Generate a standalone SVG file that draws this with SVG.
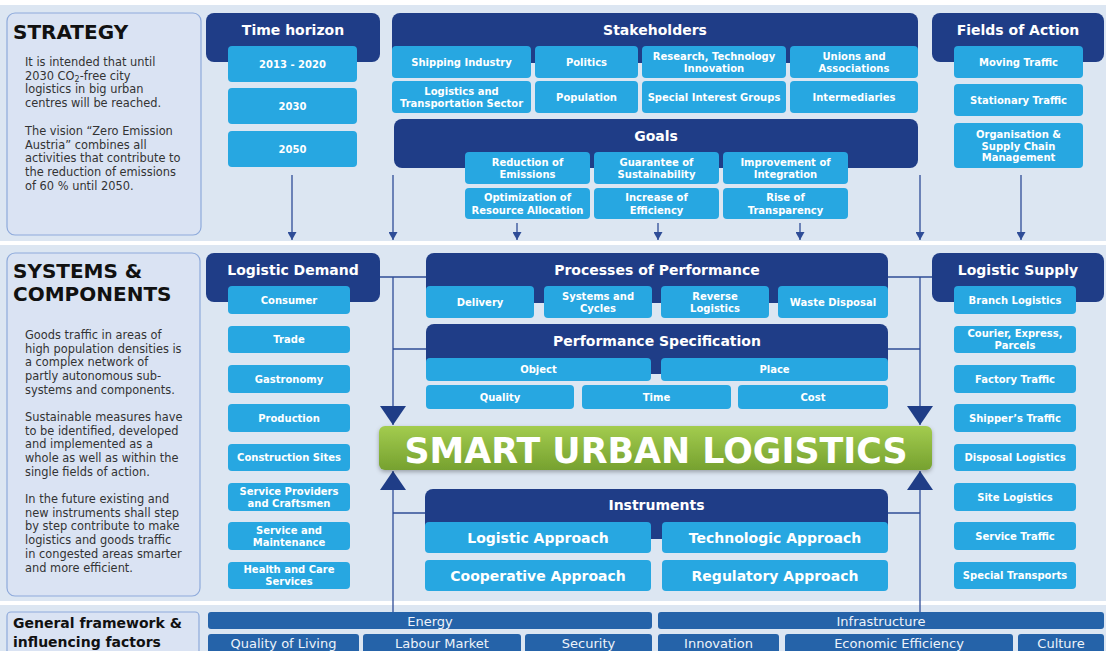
<svg xmlns="http://www.w3.org/2000/svg" width="1106" height="651" viewBox="0 0 1106 651">
<style>
.bg{fill:#dce6f2}
.side{fill:#dae3f3;stroke:#8eaadb;stroke-width:1.2}
.hd{fill:#1f3d87}
.bx{fill:#27a7e1}
.bt{fill:#2563a9}
.ht{font-family:"DejaVu Sans",sans-serif;font-weight:bold;font-size:14px;fill:#fff;text-anchor:middle}
.t{font-family:"DejaVu Sans",sans-serif;font-weight:bold;font-size:10px;fill:#fff;text-anchor:middle;dominant-baseline:central}
.ti{font-family:"DejaVu Sans",sans-serif;font-weight:bold;font-size:14px;fill:#fff;text-anchor:middle;dominant-baseline:central}
.tb{font-family:"DejaVu Sans",sans-serif;font-size:13px;fill:#eef3fa;text-anchor:middle;dominant-baseline:central}
.big{font-family:"DejaVu Sans",sans-serif;font-weight:bold;font-size:20px;fill:#111}
.gf{font-family:"DejaVu Sans",sans-serif;font-weight:bold;font-size:14px;fill:#111}
.body{font-family:"DejaVu Sans",sans-serif;font-size:11.4px;fill:#333}
.cn{stroke:#2f4d97;stroke-width:1.3;fill:none}
</style>
<defs>
<marker id="sa" markerUnits="userSpaceOnUse" markerWidth="8" markerHeight="9" refX="8" refY="4.5" orient="auto"><path d="M0,0 L8,4.5 L0,9 z" fill="#2f4d97"/></marker>
<marker id="ba" markerUnits="userSpaceOnUse" markerWidth="19" markerHeight="26" refX="19" refY="13" orient="auto"><path d="M0,0 L19,13 L0,26 z" fill="#1f3d87"/></marker>
<linearGradient id="gg" x1="0" y1="0" x2="0" y2="1"><stop offset="0" stop-color="#a3cc4f"/><stop offset="1" stop-color="#76a12f"/></linearGradient>
<filter id="sh" x="-5%" y="-20%" width="110%" height="150%"><feDropShadow dx="0" dy="2" stdDeviation="2" flood-color="#000" flood-opacity="0.3"/></filter>
</defs>
<rect width="1106" height="651" fill="#fff"/>
<rect class="bg" x="0" y="5" width="1106" height="236"/>
<rect class="bg" x="0" y="245" width="1106" height="356"/>
<rect class="bg" x="0" y="605" width="1106" height="46"/>

<g id="connectors">
<path class="cn" d="M292,175 V240" marker-end="url(#sa)"/>
<path class="cn" d="M393,175 V240" marker-end="url(#sa)"/>
<path class="cn" d="M517,223 V240" marker-end="url(#sa)"/>
<path class="cn" d="M658,223 V240" marker-end="url(#sa)"/>
<path class="cn" d="M800,223 V240" marker-end="url(#sa)"/>
<path class="cn" d="M920,175 V240" marker-end="url(#sa)"/>
<path class="cn" d="M1021,175 V240" marker-end="url(#sa)"/>
<path class="cn" d="M380,277 H426 M393,349 H426 M393,513 H426"/>
<path class="cn" d="M393,277 V425" marker-end="url(#ba)"/>
<path class="cn" d="M393,612 V471" marker-end="url(#ba)"/>
<path class="cn" d="M888,277 H932 M888,349 H920 M888,513 H920"/>
<path class="cn" d="M920,277 V425" marker-end="url(#ba)"/>
<path class="cn" d="M920,612 V471" marker-end="url(#ba)"/>
</g>

<g id="strategy">
<rect class="side" x="7" y="13" width="194" height="222" rx="8"/>
<text class="big" x="13" y="39">STRATEGY</text>
<text class="body" x="25" y="66">It is intended that until</text>
<text class="body" x="25" y="79.7">2030 CO<tspan font-size="8" dy="2.5">2</tspan><tspan dy="-2.5">-free city</tspan></text>
<text class="body" x="25" y="93.4">logistics in big urban</text>
<text class="body" x="25" y="107">centres will be reached.</text>
<text class="body" x="25" y="135">The vision “Zero Emission</text>
<text class="body" x="25" y="148.7">Austria” combines all</text>
<text class="body" x="25" y="162.4">activities that contribute to</text>
<text class="body" x="25" y="176">the reduction of emissions</text>
<text class="body" x="25" y="189.8">of 60 % until 2050.</text>
</g>

<g id="time-horizon">
<rect class="hd" x="206" y="13" width="174" height="49" rx="8"/>
<text class="ht" x="293" y="35">Time horizon</text>
<rect class="bx" x="228" y="46" width="129" height="36" rx="4"/>
<text class="t" x="292.5" y="64" font-size="10.5">2013 - 2020</text>
<rect class="bx" x="228" y="88" width="129" height="36" rx="4"/>
<text class="t" x="292.5" y="106" font-size="10.5">2030</text>
<rect class="bx" x="228" y="131" width="129" height="36" rx="4"/>
<text class="t" x="292.5" y="149" font-size="10.5">2050</text>
</g>

<g id="stakeholders">
<rect class="hd" x="392" y="13" width="526" height="50" rx="8"/>
<text class="ht" x="655" y="35">Stakeholders</text>
<rect class="bx" x="392" y="46" width="139" height="32" rx="4"/>
<text class="t" x="461.5" y="62" font-size="9.5">Shipping Industry</text>
<rect class="bx" x="535" y="46" width="103" height="32" rx="4"/>
<text class="t" x="586.5" y="62" font-size="9.5">Politics</text>
<rect class="bx" x="642" y="46" width="144" height="32" rx="4"/>
<text class="t" x="714" y="56" font-size="9.5">Research, Technology</text>
<text class="t" x="714" y="68" font-size="9.5">Innovation</text>
<rect class="bx" x="790" y="46" width="128" height="32" rx="4"/>
<text class="t" x="854" y="56" font-size="9.5">Unions and</text>
<text class="t" x="854" y="68" font-size="9.5">Associations</text>
<rect class="bx" x="392" y="81" width="139" height="32" rx="4"/>
<text class="t" x="461.5" y="91" font-size="9.5">Logistics and</text>
<text class="t" x="461.5" y="103" font-size="9.5">Transportation Sector</text>
<rect class="bx" x="535" y="81" width="103" height="32" rx="4"/>
<text class="t" x="586.5" y="97" font-size="9.5">Population</text>
<rect class="bx" x="642" y="81" width="144" height="32" rx="4"/>
<text class="t" x="714" y="97" font-size="9.5">Special Interest Groups</text>
<rect class="bx" x="790" y="81" width="128" height="32" rx="4"/>
<text class="t" x="854" y="97" font-size="9.5">Intermediaries</text>
</g>

<g id="goals">
<rect class="hd" x="394" y="119" width="524" height="49" rx="8"/>
<text class="ht" x="656" y="141">Goals</text>
<rect class="bx" x="465" y="152" width="125" height="32" rx="4"/>
<text class="t" x="527.5" y="162">Reduction of</text>
<text class="t" x="527.5" y="174.5">Emissions</text>
<rect class="bx" x="594" y="152" width="125" height="32" rx="4"/>
<text class="t" x="656.5" y="162">Guarantee of</text>
<text class="t" x="656.5" y="174.5">Sustainability</text>
<rect class="bx" x="723" y="152" width="125" height="32" rx="4"/>
<text class="t" x="785.5" y="162">Improvement of</text>
<text class="t" x="785.5" y="174.5">Integration</text>
<rect class="bx" x="465" y="188" width="125" height="31" rx="4"/>
<text class="t" x="527.5" y="197.5">Optimization of</text>
<text class="t" x="527.5" y="210">Resource Allocation</text>
<rect class="bx" x="594" y="188" width="125" height="31" rx="4"/>
<text class="t" x="656.5" y="197.5">Increase of</text>
<text class="t" x="656.5" y="210">Efficiency</text>
<rect class="bx" x="723" y="188" width="125" height="31" rx="4"/>
<text class="t" x="785.5" y="197.5">Rise of</text>
<text class="t" x="785.5" y="210">Transparency</text>
</g>

<g id="fields-of-action">
<rect class="hd" x="932" y="13" width="172" height="49" rx="8"/>
<text class="ht" x="1018" y="35">Fields of Action</text>
<rect class="bx" x="954" y="46" width="129" height="32" rx="4"/>
<text class="t" x="1018.5" y="62">Moving Traffic</text>
<rect class="bx" x="954" y="84" width="129" height="32" rx="4"/>
<text class="t" x="1018.5" y="100">Stationary Traffic</text>
<rect class="bx" x="954" y="123" width="129" height="45" rx="4"/>
<text class="t" x="1018.5" y="134">Organisation &amp;</text>
<text class="t" x="1018.5" y="146">Supply Chain</text>
<text class="t" x="1018.5" y="157.5">Management</text>
</g>

<g id="systems-components">
<rect class="side" x="7" y="253" width="193" height="343" rx="8"/>
<text class="big" x="13" y="278">SYSTEMS &amp;</text>
<text class="big" x="13" y="301">COMPONENTS</text>
<text class="body" x="25" y="339">Goods traffic in areas of</text>
<text class="body" x="25" y="352.7">high population densities is</text>
<text class="body" x="25" y="366.4">a complex network of</text>
<text class="body" x="25" y="380.1">partly autonomous sub-</text>
<text class="body" x="25" y="393.8">systems and components.</text>
<text class="body" x="25" y="421">Sustainable measures have</text>
<text class="body" x="25" y="434.7">to be identified, developed</text>
<text class="body" x="25" y="448.4">and implemented as a</text>
<text class="body" x="25" y="462.1">whole as well as within the</text>
<text class="body" x="25" y="475.8">single fields of action.</text>
<text class="body" x="25" y="503">In the future existing and</text>
<text class="body" x="25" y="516.7">new instruments shall step</text>
<text class="body" x="25" y="530.4">by step contribute to make</text>
<text class="body" x="25" y="544.1">logistics and goods traffic</text>
<text class="body" x="25" y="557.8">in congested areas smarter</text>
<text class="body" x="25" y="571.5">and more efficient.</text>
</g>

<g id="logistic-demand">
<rect class="hd" x="206" y="253" width="174" height="49" rx="8"/>
<text class="ht" x="293" y="275">Logistic Demand</text>
<rect class="bx" x="228" y="286" width="122" height="28" rx="4"/>
<text class="t" x="289" y="300">Consumer</text>
<rect class="bx" x="228" y="326" width="122" height="27" rx="4"/>
<text class="t" x="289" y="339.5">Trade</text>
<rect class="bx" x="228" y="365" width="122" height="28" rx="4"/>
<text class="t" x="289" y="379">Gastronomy</text>
<rect class="bx" x="228" y="404" width="122" height="28" rx="4"/>
<text class="t" x="289" y="418">Production</text>
<rect class="bx" x="228" y="444" width="122" height="27" rx="4"/>
<text class="t" x="289" y="457.5">Construction Sites</text>
<rect class="bx" x="228" y="483" width="122" height="28" rx="4"/>
<text class="t" x="289" y="491">Service Providers</text>
<text class="t" x="289" y="503">and Craftsmen</text>
<rect class="bx" x="228" y="522" width="122" height="28" rx="4"/>
<text class="t" x="289" y="530">Service and</text>
<text class="t" x="289" y="542">Maintenance</text>
<rect class="bx" x="228" y="562" width="122" height="27" rx="4"/>
<text class="t" x="289" y="569.5">Health and Care</text>
<text class="t" x="289" y="581.5">Services</text>
</g>

<g id="processes-of-performance">
<rect class="hd" x="426" y="253" width="462" height="50" rx="8"/>
<text class="ht" x="657" y="275">Processes of Performance</text>
<rect class="bx" x="426" y="286" width="108" height="32" rx="4"/>
<text class="t" x="480" y="302">Delivery</text>
<rect class="bx" x="544" y="286" width="108" height="32" rx="4"/>
<text class="t" x="598" y="296">Systems and</text>
<text class="t" x="598" y="308">Cycles</text>
<rect class="bx" x="661" y="286" width="108" height="32" rx="4"/>
<text class="t" x="715" y="296">Reverse</text>
<text class="t" x="715" y="308">Logistics</text>
<rect class="bx" x="778" y="286" width="110" height="32" rx="4"/>
<text class="t" x="833" y="302">Waste Disposal</text>
</g>

<g id="performance-specification">
<rect class="hd" x="426" y="324" width="462" height="50" rx="8"/>
<text class="ht" x="657" y="346">Performance Specification</text>
<rect class="bx" x="426" y="358" width="225" height="23" rx="4"/>
<text class="t" x="538.5" y="369.5">Object</text>
<rect class="bx" x="661" y="358" width="227" height="23" rx="4"/>
<text class="t" x="774.5" y="369.5">Place</text>
<rect class="bx" x="426" y="385" width="148" height="24" rx="4"/>
<text class="t" x="500" y="397">Quality</text>
<rect class="bx" x="582" y="385" width="149" height="24" rx="4"/>
<text class="t" x="656.5" y="397">Time</text>
<rect class="bx" x="738" y="385" width="150" height="24" rx="4"/>
<text class="t" x="813" y="397">Cost</text>
</g>

<g id="smart-urban-logistics">
<rect x="379" y="426" width="553" height="44" rx="6" fill="url(#gg)" filter="url(#sh)"/>
<text x="656" y="463" font-family="'DejaVu Sans',sans-serif" font-weight="bold" font-size="36" fill="#fff" text-anchor="middle" textLength="503" lengthAdjust="spacingAndGlyphs">SMART URBAN LOGISTICS</text>
</g>

<g id="instruments">
<rect class="hd" x="425" y="489" width="463" height="50" rx="8"/>
<text class="ht" x="656.5" y="510">Instruments</text>
<rect class="bx" x="425" y="522" width="226" height="31" rx="4"/>
<text class="ti" x="538" y="538">Logistic Approach</text>
<rect class="bx" x="662" y="522" width="226" height="31" rx="4"/>
<text class="ti" x="775" y="538">Technologic Approach</text>
<rect class="bx" x="425" y="560" width="226" height="31" rx="4"/>
<text class="ti" x="538" y="576">Cooperative Approach</text>
<rect class="bx" x="662" y="560" width="226" height="31" rx="4"/>
<text class="ti" x="775" y="576">Regulatory Approach</text>
</g>

<g id="logistic-supply">
<rect class="hd" x="932" y="253" width="172" height="49" rx="8"/>
<text class="ht" x="1018" y="275">Logistic Supply</text>
<rect class="bx" x="954" y="286" width="122" height="28" rx="4"/>
<text class="t" x="1015" y="300">Branch Logistics</text>
<rect class="bx" x="954" y="326" width="122" height="27" rx="4"/>
<text class="t" x="1015" y="333.5">Courier, Express,</text>
<text class="t" x="1015" y="345.5">Parcels</text>
<rect class="bx" x="954" y="365" width="122" height="28" rx="4"/>
<text class="t" x="1015" y="379">Factory Traffic</text>
<rect class="bx" x="954" y="404" width="122" height="28" rx="4"/>
<text class="t" x="1015" y="418">Shipper’s Traffic</text>
<rect class="bx" x="954" y="444" width="122" height="27" rx="4"/>
<text class="t" x="1015" y="457.5">Disposal Logistics</text>
<rect class="bx" x="954" y="483" width="122" height="28" rx="4"/>
<text class="t" x="1015" y="497">Site Logistics</text>
<rect class="bx" x="954" y="522" width="122" height="28" rx="4"/>
<text class="t" x="1015" y="536">Service Traffic</text>
<rect class="bx" x="954" y="562" width="122" height="27" rx="4"/>
<text class="t" x="1015" y="575.5">Special Transports</text>
</g>

<g id="general-framework">
<rect class="side" x="7" y="612" width="192" height="48" rx="4"/>
<text class="gf" x="13" y="628">General framework &amp;</text>
<text class="gf" x="13" y="647">influencing factors</text>
</g>

<g id="factors">
<rect class="bt" x="208" y="612" width="444" height="17" rx="3"/>
<text class="tb" x="430" y="621">Energy</text>
<rect class="bt" x="658" y="612" width="446" height="17" rx="3"/>
<text class="tb" x="881" y="621">Infrastructure</text>
<rect class="bt" x="208" y="634" width="151" height="20" rx="3"/>
<text class="tb" x="283.5" y="643">Quality of Living</text>
<rect class="bt" x="363" y="634" width="158" height="20" rx="3"/>
<text class="tb" x="442" y="643">Labour Market</text>
<rect class="bt" x="525" y="634" width="127" height="20" rx="3"/>
<text class="tb" x="588.5" y="643">Security</text>
<rect class="bt" x="658" y="634" width="121" height="20" rx="3"/>
<text class="tb" x="718.5" y="643">Innovation</text>
<rect class="bt" x="785" y="634" width="228" height="20" rx="3"/>
<text class="tb" x="899" y="643">Economic Efficiency</text>
<rect class="bt" x="1018" y="634" width="86" height="20" rx="3"/>
<text class="tb" x="1061" y="643">Culture</text>
</g>
</svg>
